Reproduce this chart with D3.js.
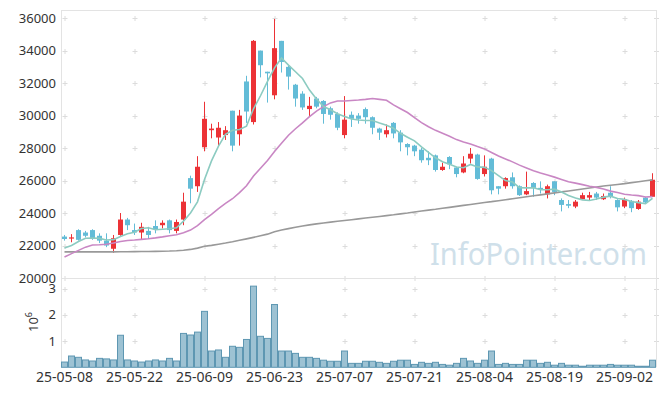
<!DOCTYPE html>
<html>
<head>
<meta charset="utf-8">
<script src="https://cdn.jsdelivr.net/npm/d3@7/dist/d3.min.js"></script>
<style>
   body { margin: 0; background: #fff; }
   svg { display: block; font-family: 'Noto Sans', sans-serif; }
</style>
</head>
<body>
<div id="chart"></div>
<script>
// trading days shown on the chart (YY-MM-DD)
const dates = [
   '25-05-08','25-05-09','25-05-12','25-05-13','25-05-14','25-05-15','25-05-16','25-05-19','25-05-20','25-05-21',
   '25-05-22','25-05-23','25-05-26','25-05-27','25-05-28','25-05-29','25-05-30','25-06-02','25-06-04','25-06-05',
   '25-06-09','25-06-10','25-06-11','25-06-12','25-06-13','25-06-16','25-06-17','25-06-18','25-06-19','25-06-20',
   '25-06-23','25-06-24','25-06-25','25-06-26','25-06-27','25-06-30','25-07-01','25-07-02','25-07-03','25-07-04',
   '25-07-07','25-07-08','25-07-09','25-07-10','25-07-11','25-07-14','25-07-15','25-07-16','25-07-17','25-07-18',
   '25-07-21','25-07-22','25-07-23','25-07-24','25-07-25','25-07-28','25-07-29','25-07-30','25-07-31','25-08-01',
   '25-08-04','25-08-05','25-08-06','25-08-07','25-08-08','25-08-11','25-08-12','25-08-13','25-08-14','25-08-18',
   '25-08-19','25-08-20','25-08-21','25-08-22','25-08-25','25-08-26','25-08-27','25-08-28','25-08-29','25-09-01',
   '25-09-02','25-09-03','25-09-04','25-09-05','25-09-08'
];

const openPrices = [
   22550,22450,22950,22800,22950,22600,22300,21800,22650,23600,
   22950,22800,22900,23200,23250,23550,22900,23600,26150,25650,
   28050,29100,28650,28800,30300,28850,32100,29600,34000,32700,
   31250,34600,33000,31900,31350,30400,31050,30900,30450,30100,
   28800,30050,30000,30400,29900,29200,28850,29550,28950,28250,
   28150,27900,27400,27550,26650,27450,26800,26500,27350,27600,
   26400,27350,25650,25650,26200,25650,25150,25850,25550,25150,
   25950,24800,24550,24400,24850,24950,25200,24850,25250,24800,
   24400,24750,24250,24950,25000
];
const highPrices = [
   22650,22700,23000,22900,23000,22750,22750,22650,24000,23700,
   23350,23400,23150,23550,23550,23600,23600,25250,26300,27500,
   30850,29500,29600,29350,30300,30350,32450,34650,34000,32700,
   35950,34600,33100,31950,31500,31150,31150,30950,30550,30200,
   31200,30250,30150,30500,29950,29250,29450,29600,29100,28300,
   28200,28000,27800,27600,27100,27500,26850,27500,28000,27650,
   27550,27400,25650,26200,26500,25700,26550,25900,25950,25750,
   25950,24900,24800,24800,25250,25300,25300,25200,25650,24850,
   24950,24800,24800,25000,26450
];
const lowPrices = [
   22300,22200,22300,22500,22350,22150,21900,21550,22600,22950,
   22650,22350,22400,22750,23050,22750,22750,23250,24600,25300,
   27800,28600,28100,28500,27800,28150,29550,29450,32350,30800,
   31000,32650,31600,30550,30350,29950,30450,29500,29750,29100,
   28600,29300,29500,29500,28850,28500,28650,28600,27800,27550,
   27500,27100,26950,26550,26600,26700,26200,26450,27050,26050,
   26250,25150,25150,25500,25500,25050,25100,25000,25200,24900,
   25100,24100,24300,24300,24850,24800,24800,24800,24900,24100,
   24300,24050,24200,24600,25000
];
const closePrices = [
   22400,22500,22350,22600,22450,22300,22000,22450,23600,23250,
   22800,23150,22650,23000,23400,22950,23450,24700,25500,26850,
   29800,29200,29250,29100,28150,30000,30250,34600,33100,32600,
   34150,33300,32400,31050,30500,30600,30550,30100,30050,29250,
   29750,29800,29800,29900,29250,28950,29100,28900,28350,28050,
   27800,27250,27250,26650,26850,27000,26400,27050,27650,26100,
   26850,25400,25500,26150,25650,25100,25350,25550,25500,25650,
   25300,24500,24450,24700,25100,25100,24950,25050,25000,24350,
   24850,24300,24700,24650,26050
];
const volumes = [
   200000,430000,380000,280000,240000,340000,320000,280000,1220000,280000,
   240000,200000,240000,280000,240000,340000,240000,1290000,1230000,1340000,
   2130000,620000,660000,380000,800000,760000,1060000,3090000,1180000,1100000,
   2390000,620000,620000,530000,380000,380000,340000,270000,230000,230000,
   620000,150000,150000,230000,230000,190000,150000,230000,270000,270000,
   110000,190000,150000,190000,110000,80000,150000,340000,240000,150000,
   270000,620000,110000,150000,110000,110000,270000,270000,150000,190000,
   80000,150000,80000,80000,40000,80000,80000,80000,110000,80000,
   80000,80000,40000,40000,270000
];

// moving averages
const ma5 = [
   21850,22000,22250,22450,22460,22440,22340,22360,22560,22720,
   22820,23050,23090,22970,23000,23030,23090,23500,24000,24690,
   26060,27210,28120,28840,29100,29140,29350,30420,31220,32110,
   32940,33550,33110,32700,32280,31570,31020,30560,30360,30110,
   29940,29790,29730,29700,29700,29540,29400,29220,28910,28670,
   28440,28070,27740,27400,27160,27000,26830,26790,26990,26840,
   26810,26610,26300,26000,25910,25560,25550,25560,25430,25430,
   25470,25300,25080,24920,24810,24770,24860,24980,25040,24890,
   24840,24710,24640,24570,24910
];
const ma20 = [
   21290,21500,21700,21900,22030,22050,22080,22150,22250,22310,
   22340,22380,22420,22470,22530,22600,22660,22780,22950,23220,
   23590,23920,24270,24590,24880,25260,25680,26280,26760,27230,
   27790,28300,28790,29190,29550,29930,30280,30550,30780,30900,
   30900,30930,30960,31000,31050,31000,30940,30660,30420,30190,
   29870,29570,29310,29090,28910,28730,28520,28370,28250,28090,
   27950,27730,27510,27330,27150,26950,26770,26600,26460,26340,
   26210,26070,25930,25840,25750,25650,25580,25480,25350,25260,
   25160,25110,25070,24990,25010
];
const ma120 = [
   21610,21610,21610,21610,21610,21610,21610,21610,21615,21620,
   21625,21630,21635,21640,21650,21660,21680,21710,21760,21840,
   21950,22010,22080,22150,22230,22320,22410,22500,22600,22700,
   22850,22950,23040,23120,23200,23270,23330,23390,23440,23490,
   23540,23590,23640,23690,23740,23790,23840,23890,23950,24000,
   24060,24120,24180,24230,24290,24350,24410,24470,24530,24590,
   24650,24700,24760,24820,24880,24940,25000,25060,25120,25180,
   25240,25300,25360,25420,25480,25540,25600,25660,25710,25760,
   25810,25870,25930,25990,26040
];

const priceTicks = [20000,22000,24000,26000,28000,30000,32000,34000,36000];
const volumeTicks = [1000000,2000000,3000000];
const dateTickIndex = [0,10,20,30,40,50,60,70,80];

class CandleChart {
   constructor(_config) {
      this.config = {
         parentElementSelector: _config.parentElementSelector,
         width: _config.width || 665,
         height: _config.height || 396,
         left: 61,
         right: 656,
         top: 10,
         priceBottom: 278,
         volumeBottom: 367.3,
         upColor: '#ec3236',
         downColor: '#63bcd7',
         gridColor: '#dcdcdc',
      };
      this.candles = dates.map((d, i) => ({
         i,
         date: d,
         open: openPrices[i],
         high: highPrices[i],
         low: lowPrices[i],
         close: closePrices[i],
         volume: volumes[i],
      }));
      this.initVis();
   }

   initVis() {
      const c = this.config;

      this.svg = d3
         .select(c.parentElementSelector)
         .append('svg')
         .attr('width', c.width)
         .attr('height', c.height);

      this.xScale = d3
         .scaleBand()
         .domain(d3.range(dates.length))
         .range([c.left, c.right]);

      this.yPrice = d3
         .scaleLinear()
         .domain([20000, 36500])
         .range([c.priceBottom, c.top]);

      this.yVolume = d3
         .scaleLinear()
         .domain([0, 3400000])
         .range([c.volumeBottom, c.priceBottom]);

      this.drawFrame();
      this.drawWatermark();
      this.drawVolume();
      this.drawCandles();
      this.drawLines();
      this.drawAxes();
   }

   drawFrame() {
      const c = this.config;
      const frame = this.svg.append('g').attr('class', 'frame');

      // little "+" marks where grid lines would cross
      const xs = dateTickIndex
         .map((i) => this.xScale(i) + this.xScale.bandwidth() / 2)
         .concat([c.right]);
      const ys = priceTicks
         .map((p) => this.yPrice(p))
         .concat(volumeTicks.map((v) => this.yVolume(v)));
      const crosses = [];
      xs.forEach((x) => ys.forEach((y) => crosses.push([x, y])));
      frame
         .selectAll('.cross')
         .data(crosses)
         .join('path')
         .attr('class', 'cross')
         .attr('d', (d) => `M${d[0] - 2},${Math.round(d[1]) + 0.5}h5M${d[0] + 0.5},${Math.round(d[1]) - 2}v5`)
         .attr('stroke', c.gridColor)
         .attr('stroke-width', 1)
         .attr('fill', 'none');

      const edges = [
         [c.left + 0.5, c.top, c.left + 0.5, c.volumeBottom],
         [c.right + 0.5, c.top, c.right + 0.5, c.volumeBottom],
         [c.left, c.top + 0.5, c.right + 1, c.top + 0.5],
         [c.left, c.priceBottom + 0.5, c.right + 1, c.priceBottom + 0.5],
      ];
      frame
         .selectAll('.edge')
         .data(edges)
         .join('line')
         .attr('class', 'edge')
         .attr('x1', (d) => d[0])
         .attr('y1', (d) => d[1])
         .attr('x2', (d) => d[2])
         .attr('y2', (d) => d[3])
         .attr('stroke', '#e3e3e3');
   }

   drawWatermark() {
      this.svg
         .append('text')
         .attr('class', 'watermark')
         .attr('x', 430)
         .attr('y', 265)
         .attr('font-size', 31)
         .attr('textLength', 217)
         .attr('lengthAdjust', 'spacingAndGlyphs')
         .attr('fill', '#cfe0ea')
         .text('InfoPointer.com');
   }

   drawVolume() {
      const c = this.config;
      this.svg
         .append('g')
         .attr('class', 'volume')
         .selectAll('rect')
         .data(this.candles)
         .join('rect')
         .attr('x', (d) => this.xScale(d.i) + 0.5)
         .attr('y', (d) => this.yVolume(d.volume))
         .attr('width', this.xScale.bandwidth() - 1)
         .attr('height', (d) => c.volumeBottom - this.yVolume(d.volume))
         .attr('fill', '#9dc2d3')
         .attr('stroke', '#5e97b2')
         .attr('stroke-width', 1);
   }

   drawCandles() {
      const c = this.config;
      const bw = this.xScale.bandwidth();
      const color = (d) => (d.close >= d.open ? c.upColor : c.downColor);
      const g = this.svg.append('g').attr('class', 'candles');

      g.selectAll('.wick')
         .data(this.candles)
         .join('line')
         .attr('class', 'wick')
         .attr('x1', (d) => this.xScale(d.i) + bw / 2)
         .attr('x2', (d) => this.xScale(d.i) + bw / 2)
         .attr('y1', (d) => this.yPrice(d.high))
         .attr('y2', (d) => this.yPrice(d.low))
         .attr('stroke', color)
         .attr('stroke-width', 1);

      g.selectAll('.body')
         .data(this.candles)
         .join('rect')
         .attr('class', 'body')
         .attr('x', (d) => this.xScale(d.i) + 1)
         .attr('width', bw - 2)
         .attr('y', (d) => this.yPrice(Math.max(d.open, d.close)))
         .attr('height', (d) =>
            Math.max(1.2, Math.abs(this.yPrice(d.open) - this.yPrice(d.close)))
         )
         .attr('fill', color);
   }

   drawLines() {
      const bw = this.xScale.bandwidth();
      const line = d3
         .line()
         .x((d, i) => this.xScale(i) + bw / 2)
         .y((d) => this.yPrice(d));
      const series = [
         { values: ma120, color: '#999999' },
         { values: ma20, color: '#c987c4' },
         { values: ma5, color: '#8ccbc1' },
      ];
      this.svg
         .append('g')
         .attr('class', 'ma-lines')
         .selectAll('path')
         .data(series)
         .join('path')
         .attr('d', (d) => line(d.values))
         .attr('fill', 'none')
         .attr('stroke', (d) => d.color)
         .attr('stroke-width', 1.6);
   }

   drawAxes() {
      const c = this.config;

      const yAxis = d3
         .axisLeft(this.yPrice)
         .tickValues(priceTicks)
         .tickFormat(d3.format('d'))
         .tickSize(0)
         .tickPadding(5);
      const yAxisG = this.svg
         .append('g')
         .attr('class', 'axis y-axis')
         .attr('transform', `translate(${c.left},0)`)
         .call(yAxis);

      const vAxis = d3
         .axisLeft(this.yVolume)
         .tickValues(volumeTicks)
         .tickFormat((v) => v / 1000000)
         .tickSize(0)
         .tickPadding(5);
      const vAxisG = this.svg
         .append('g')
         .attr('class', 'axis v-axis')
         .attr('transform', `translate(${c.left},0)`)
         .call(vAxis);

      const xAxis = d3
         .axisBottom(this.xScale)
         .tickValues(dateTickIndex)
         .tickFormat((i) => dates[i])
         .tickSize(0)
         .tickPadding(5);
      const xAxisG = this.svg
         .append('g')
         .attr('class', 'axis x-axis')
         .attr('transform', `translate(0,${c.volumeBottom})`)
         .call(xAxis);

      [yAxisG, vAxisG, xAxisG].forEach((g) => {
         g.select('.domain').remove();
         g.attr('font-size', 13)
            .attr('font-family', "'Noto Sans', sans-serif");
         g.selectAll('text').attr('fill', '#333');
      });
      xAxisG.attr('font-size', 14);

      // unit label for the volume panel
      const unit = this.svg
         .append('text')
         .attr('class', 'volume-unit')
         .attr('transform', 'translate(38,332) rotate(-90)')
         .attr('font-size', 13)
         .attr('fill', '#333');
      unit.append('tspan').text('10');
      unit.append('tspan').attr('dy', -6).attr('font-size', 9).text('6');
   }
}

new CandleChart({ parentElementSelector: '#chart' });
</script>
</body>
</html>
